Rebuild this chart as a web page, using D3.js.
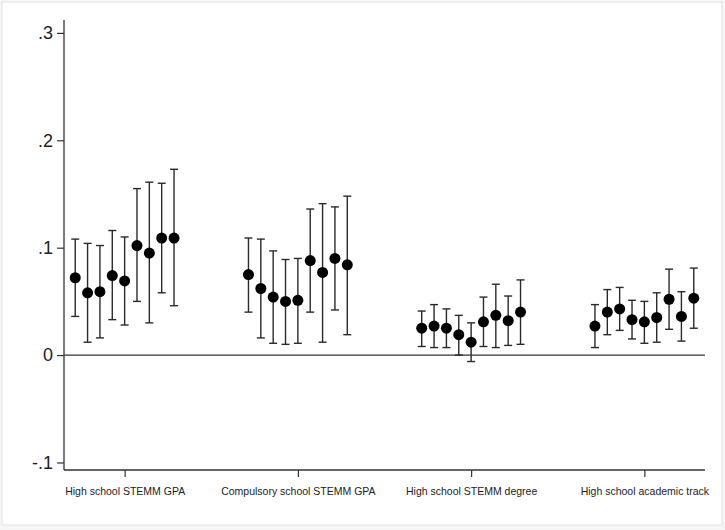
<!DOCTYPE html>
<html>
<head>
<meta charset="utf-8">
<script src="https://cdn.jsdelivr.net/npm/d3@7"></script>
<style>
  html, body { margin: 0; padding: 0; background: #f6f6f6; }
  svg { display: block; }
</style>
</head>
<body>
<svg id="chart" width="725" height="530"></svg>
<script>
const categories = ["High school STEMM GPA", "Compulsory school STEMM GPA", "High school STEMM degree", "High school academic track"];
const estimates = [
  [0.072, 0.058, 0.059, 0.074, 0.069, 0.102, 0.095, 0.109, 0.109],
  [0.075, 0.062, 0.054, 0.050, 0.051, 0.088, 0.077, 0.090, 0.084],
  [0.025, 0.027, 0.025, 0.019, 0.012, 0.031, 0.037, 0.032, 0.040],
  [0.027, 0.040, 0.043, 0.033, 0.031, 0.035, 0.052, 0.036, 0.053]
];
const upper = [
  [0.108, 0.104, 0.102, 0.116, 0.110, 0.155, 0.161, 0.160, 0.173],
  [0.109, 0.108, 0.097, 0.089, 0.090, 0.136, 0.141, 0.138, 0.148],
  [0.041, 0.047, 0.043, 0.037, 0.030, 0.054, 0.066, 0.055, 0.070],
  [0.047, 0.061, 0.063, 0.051, 0.050, 0.058, 0.080, 0.059, 0.081]
];
const lower = [
  [0.036, 0.012, 0.016, 0.033, 0.028, 0.050, 0.030, 0.058, 0.046],
  [0.040, 0.016, 0.011, 0.010, 0.011, 0.040, 0.012, 0.042, 0.019],
  [0.008, 0.007, 0.007, 0.000, -0.006, 0.008, 0.007, 0.009, 0.010],
  [0.007, 0.019, 0.023, 0.015, 0.011, 0.012, 0.024, 0.013, 0.025]
];
const yTicks = [-0.1, 0, 0.1, 0.2, 0.3];
const yTickLabels = ["-.1", "0", ".1", ".2", ".3"];

const svg = d3.select("#chart");
svg.append("rect").attr("x", 2).attr("y", 2).attr("width", 720).attr("height", 523)
  .attr("fill", "#ffffff").attr("stroke", "#e2e2e2").attr("stroke-width", 1);

const pLeft = 64, pRight = 705, pTop = 20, pBottom = 470;
const x = d3.scaleLinear().domain([0.65, 4.35]).range([pLeft, pRight]);
const y = d3.scaleLinear().domain([-0.107, 0.312]).range([pBottom, pTop]);
const step = 0.0713;

// zero line
svg.append("line").attr("x1", pLeft).attr("x2", pRight).attr("y1", y(0)).attr("y2", y(0))
  .attr("stroke", "#333").attr("stroke-width", 1.3);

// y axis
const yAxis = d3.axisLeft(y).tickValues(yTicks).tickFormat((d, i) => yTickLabels[i]).tickSize(7).tickPadding(4);
const gy = svg.append("g").attr("transform", `translate(${pLeft},0)`).call(yAxis);
gy.select(".domain").attr("d", `M0,${pTop}V${pBottom}`).attr("stroke", "#333").attr("stroke-width", 1.3);
gy.selectAll(".tick line").attr("stroke", "#333").attr("stroke-width", 1.2);
gy.selectAll(".tick text").attr("font-family", "Liberation Sans, Arial, sans-serif").attr("font-size", 18).attr("fill", "#222");

// x axis
const xAxis = d3.axisBottom(x).tickValues([1, 2, 3, 4]).tickFormat((d, i) => categories[i]).tickSize(7).tickPadding(11);
const gx = svg.append("g").attr("transform", `translate(0,${pBottom})`).call(xAxis);
gx.select(".domain").attr("d", `M${pLeft},0H${pRight}`).attr("stroke", "#333").attr("stroke-width", 1.3);
gx.selectAll(".tick line").attr("stroke", "#333").attr("stroke-width", 1.2);
gx.selectAll(".tick text").attr("font-family", "Liberation Sans, Arial, sans-serif").attr("font-size", 10.5).attr("fill", "#222");

// points
const pts = [];
estimates.forEach((row, g) => row.forEach((v, k) => {
  pts.push({ xv: g + 1 + (k - 4) * step, est: v, hi: upper[g][k], lo: lower[g][k] });
}));

const gp = svg.append("g");
const cap = 4;
gp.selectAll("line.ci").data(pts).join("line").attr("class", "ci")
  .attr("x1", d => x(d.xv)).attr("x2", d => x(d.xv))
  .attr("y1", d => y(d.hi)).attr("y2", d => y(d.lo))
  .attr("stroke", "#2a2a2a").attr("stroke-width", 1.4);
gp.selectAll("line.caphi").data(pts).join("line").attr("class", "caphi")
  .attr("x1", d => x(d.xv) - cap).attr("x2", d => x(d.xv) + cap)
  .attr("y1", d => y(d.hi)).attr("y2", d => y(d.hi))
  .attr("stroke", "#2a2a2a").attr("stroke-width", 1.4);
gp.selectAll("line.caplo").data(pts).join("line").attr("class", "caplo")
  .attr("x1", d => x(d.xv) - cap).attr("x2", d => x(d.xv) + cap)
  .attr("y1", d => y(d.lo)).attr("y2", d => y(d.lo))
  .attr("stroke", "#2a2a2a").attr("stroke-width", 1.4);
gp.selectAll("circle").data(pts).join("circle")
  .attr("cx", d => x(d.xv)).attr("cy", d => y(d.est)).attr("r", 5.5)
  .attr("fill", "#000");
</script>
</body>
</html>
